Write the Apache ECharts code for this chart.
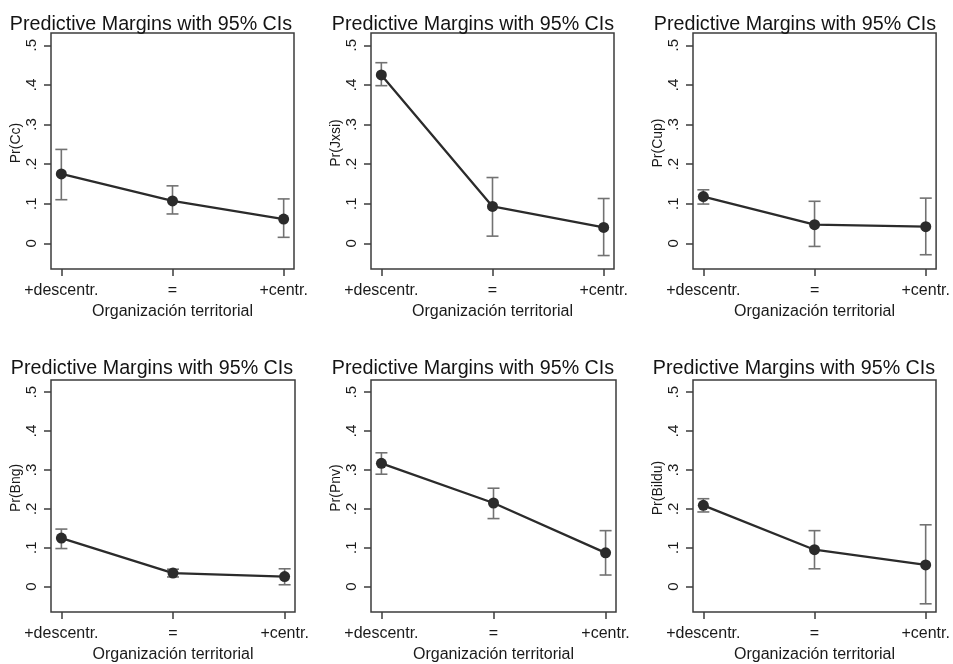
<!DOCTYPE html>
<html>
<head>
<meta charset="utf-8">
<script src="https://cdn.jsdelivr.net/npm/echarts@6/dist/echarts.min.js"></script>
<style>
  html, body { margin: 0; padding: 0; background: #fff; }
  #mychart { width: 953px; height: 664px; }
</style>
</head>
<body>
<div id="mychart"></div>
<script>
// categories on the x axis
var categories = ['+descentr.', '=', '+centr.']
var yTicks = [0, 0.1, 0.2, 0.3, 0.4, 0.5]
var yTickLabels = ['0', '.1', '.2', '.3', '.4', '.5']
var titleText = 'Predictive Margins with 95% CIs'
var xTitle = 'Organización territorial'
var yTitles = ['Pr(Cc)', 'Pr(Jxsi)', 'Pr(Cup)', 'Pr(Bng)', 'Pr(Pnv)', 'Pr(Bildu)']

// predictive margins and 95% CI bounds, per party
var ccEst = [0.175, 0.107, 0.061]
var ccLow = [0.110, 0.074, 0.015]
var ccHigh = [0.237, 0.145, 0.112]

var jxsiEst = [0.425, 0.093, 0.040]
var jxsiLow = [0.398, 0.018, -0.031]
var jxsiHigh = [0.456, 0.166, 0.113]

var cupEst = [0.118, 0.047, 0.042]
var cupLow = [0.099, -0.008, -0.029]
var cupHigh = [0.135, 0.106, 0.114]

var bngEst = [0.125, 0.035, 0.026]
var bngLow = [0.098, 0.025, 0.005]
var bngHigh = [0.148, 0.045, 0.046]

var pnvEst = [0.317, 0.215, 0.087]
var pnvLow = [0.289, 0.175, 0.030]
var pnvHigh = [0.344, 0.253, 0.144]

var bilduEst = [0.209, 0.095, 0.056]
var bilduLow = [0.192, 0.046, -0.044]
var bilduHigh = [0.226, 0.144, 0.159]

var panels = [
  { est: ccEst, low: ccLow, high: ccHigh },
  { est: jxsiEst, low: jxsiLow, high: jxsiHigh },
  { est: cupEst, low: cupLow, high: cupHigh },
  { est: bngEst, low: bngLow, high: bngHigh },
  { est: pnvEst, low: pnvLow, high: pnvHigh },
  { est: bilduEst, low: bilduLow, high: bilduHigh }
]

// grid boxes (left, top, width, height)
var boxes = [
  [51, 33, 243, 236], [371, 33, 243, 236], [693, 33, 244, 236],
  [51, 380, 244, 236], [371, 380, 245, 236], [693, 380, 243, 236]
]
var titleCenters = [[151, 15], [473, 15], [795, 15], [152, 359], [473, 359], [794, 359]]

var fontFamily = '"Liberation Sans", Arial, sans-serif'
var ink = '#2b2b2b'
var ciColor = '#727272'
var frame = '#3c3c3c'

function errorBarItem(params, api) {
  var x = api.value(0)
  var lo = api.coord([x, api.value(1)])
  var hi = api.coord([x, api.value(2)])
  var cap = 6
  var style = { stroke: ciColor, lineWidth: 1.6 }
  return {
    type: 'group',
    children: [
      { type: 'line', shape: { x1: lo[0], y1: lo[1], x2: hi[0], y2: hi[1] }, style: style },
      { type: 'line', shape: { x1: lo[0] - cap, y1: lo[1], x2: lo[0] + cap, y2: lo[1] }, style: style },
      { type: 'line', shape: { x1: hi[0] - cap, y1: hi[1], x2: hi[0] + cap, y2: hi[1] }, style: style }
    ]
  }
}

function generateOptions() {
  var grid = [], xAxis = [], yAxis = [], series = [], title = []
  panels.forEach(function (p, i) {
    var b = boxes[i]
    grid.push({
      left: b[0], top: b[1], width: b[2], height: b[3],
      show: true, borderColor: frame, borderWidth: 1.5, backgroundColor: '#fff'
    })
    title.push({
      text: titleText,
      left: titleCenters[i][0], top: titleCenters[i][1],
      textAlign: 'center',
      padding: 0,
      textStyle: { fontFamily: fontFamily, fontSize: 19.7, fontWeight: 'normal', color: '#141414' }
    })
    xAxis.push({
      type: 'value',
      gridIndex: i,
      min: -0.093,
      max: 2.093,
      splitLine: { show: false },
      axisLine: { show: false, onZero: false },
      axisTick: { show: true, length: 7, customValues: [0, 1, 2], lineStyle: { color: frame, width: 1.5 } },
      axisLabel: {
        customValues: [0, 1, 2],
        margin: 14,
        fontFamily: fontFamily, fontSize: 16, color: '#1a1a1a',
        formatter: function (v) { return categories[Math.round(v)] }
      },
      name: xTitle,
      nameLocation: 'middle',
      nameGap: 35,
      nameTextStyle: { fontFamily: fontFamily, fontSize: 16, color: '#1a1a1a' }
    })
    yAxis.push({
      type: 'value',
      gridIndex: i,
      min: -0.065,
      max: 0.531,
      splitLine: { show: false },
      axisLine: { show: false, onZero: false },
      axisTick: { show: true, length: 7, customValues: yTicks, lineStyle: { color: frame, width: 1.5 } },
      axisLabel: {
        customValues: yTicks,
        rotate: 90,
        margin: 12,
        fontFamily: fontFamily, fontSize: 15, color: '#1a1a1a',
        formatter: function (v) { return yTickLabels[Math.round(v * 10)] }
      },
      name: yTitles[i],
      nameLocation: 'middle',
      nameGap: 27,
      nameTextStyle: { fontFamily: fontFamily, fontSize: 14, color: '#1a1a1a', padding: [0, 0, 0, 16] }
    })
    series.push({
      type: 'custom',
      xAxisIndex: i,
      yAxisIndex: i,
      renderItem: errorBarItem,
      data: p.est.map(function (v, k) { return [k, p.low[k], p.high[k]] }),
      z: 2
    })
    series.push({
      type: 'line',
      xAxisIndex: i,
      yAxisIndex: i,
      symbol: 'circle',
      symbolSize: 11,
      itemStyle: { color: ink },
      lineStyle: { color: ink, width: 2.3 },
      data: p.est.map(function (v, k) { return [k, v] }),
      z: 3
    })
  })
  return {
    animation: false,
    backgroundColor: '#fff',
    title: title,
    grid: grid,
    xAxis: xAxis,
    yAxis: yAxis,
    series: series
  }
}

var chart = echarts.init(document.getElementById('mychart'))
chart.setOption(generateOptions())
</script>
</body>
</html>
